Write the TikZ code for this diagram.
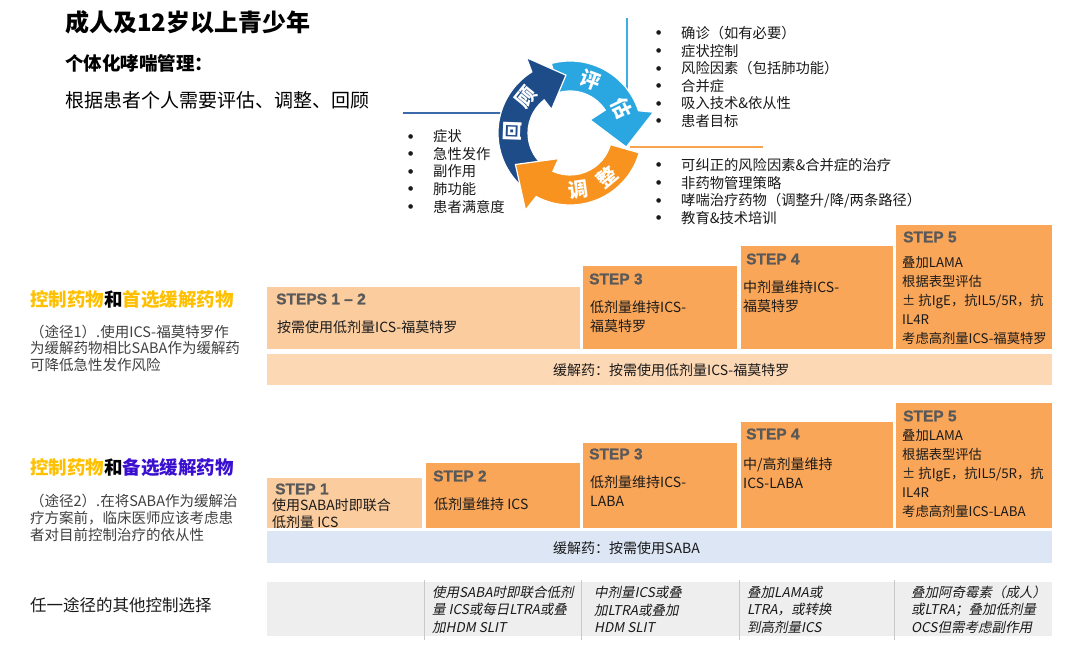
\documentclass[tikz,border=0pt]{standalone}
\usepackage{fontspec}
\setmainfont{Noto Sans CJK SC}
\newfontfamily\cjkit{Noto Sans CJK SC}[FakeSlant=0.2]
\newfontfamily\stepf{Liberation Sans Bold}[FakeBold=1.2]
\newfontfamily\bulf{DejaVu Sans}
\newcommand{\bul}{\makebox[25pt][l]{\raisebox{3.6pt}{\bulf\fontsize{6}{7}\selectfont ●}}}
\definecolor{cL}{HTML}{FBCC9E}
\definecolor{cD}{HTML}{FAA658}
\definecolor{cBarA}{HTML}{FDD8B5}
\definecolor{cBarB}{HTML}{DCE6F5}
\definecolor{cBand}{HTML}{EEEEEE}
\definecolor{cSep}{HTML}{C9C9C9}
\definecolor{cLbl}{HTML}{595959}
\definecolor{cNavy}{HTML}{1D4C89}
\definecolor{cSky}{HTML}{2AA7E1}
\definecolor{cOra}{HTML}{F7931E}
\definecolor{cSkyLine}{HTML}{3AB0E2}
\definecolor{cNavyLine}{HTML}{3A6BA8}
\definecolor{cOraLine}{HTML}{F7A450}
\definecolor{cGold}{HTML}{FFC000}
\definecolor{cPurp}{HTML}{3A0FD0}
\definecolor{cTxt}{HTML}{1A1A1A}
\definecolor{cDesc}{HTML}{404040}
\tikzset{
  boxbase/.style={draw=none, inner sep=0, outer sep=0, anchor=north west},
  ltbox/.style={boxbase, fill=cL},
  dkbox/.style={boxbase, fill=cD},
  steplbl/.style={anchor=west, inner sep=0, font=\stepf\fontsize{15.5}{18}\selectfont, text=cLbl},
  btxt/.style={anchor=west, inner sep=0, align=left, font=\fontsize{14}{19}\selectfont, text=cTxt},
  btxtS/.style={btxt, font=\fontsize{13.3}{19}\selectfont},
  lst/.style={anchor=west, inner sep=0, align=left, font=\fontsize{14.3}{17.6}\selectfont, text=cTxt},
  desc/.style={anchor=west, inner sep=0, align=left, font=\fontsize{14.5}{16.8}\selectfont, text=cDesc},
  heading/.style={anchor=west, inner sep=0, font=\bfseries\fontsize{18.5}{22}\selectfont},
  celltxt/.style={anchor=west, inner sep=0, align=left, font=\cjkit\fontsize{13.5}{17.5}\selectfont, text=cTxt},
  arrtxt/.style={inner sep=0, text=white, font=\bfseries\fontsize{20}{22}\selectfont},
  ring/.style={draw=white, line width=1.2}
}
\begin{document}
\begin{tikzpicture}[x=1pt,y=-1pt]
\fill[white] (0,0) rectangle (1080,651);
\useasboundingbox (0,0) rectangle (1080,651);

% titles
\node[anchor=west, inner sep=0, font=\bfseries\fontsize{24}{28}\selectfont] (title) at (65,22) {成人及12岁以上青少年};
\node[anchor=west, inner sep=0, font=\bfseries\fontsize{18.5}{22}\selectfont] (sub) at (65,63) {个体化哮喘管理：};
\node[anchor=west, inner sep=0, font=\fontsize{19}{22}\selectfont] (sub2) at (65,100) {根据患者个人需要评估、调整、回顾};

% guide lines
\coordinate (ls1) at (627,18); \coordinate (ls2) at (627,100);
\coordinate (ln1) at (403,113); \coordinate (ln2) at (510,113);
\coordinate (lo1) at (630,147); \coordinate (lo2) at (763,147);
\draw[cSkyLine, line width=1.3] (ls1) -- (ls2);
\draw[cNavyLine, line width=1.3] (ln1) -- (ln2);
\draw[cOraLine, line width=1.3] (lo1) -- (lo2);

% cycle
\begin{scope}[shift={(570,133)}, yscale=-1]
\path[ring, fill=cSky] (105:72) arc[start angle=105, end angle=18, radius=72] -- (14:86) -- (-14:58) -- (33:24) -- (33:42) arc[start angle=33, end angle=105, radius=42] -- cycle;
\path[ring, fill=cNavy] (225:72) arc[start angle=225, end angle=122, radius=72] -- (120:87) -- (94:58) -- (128:30) -- (128:42) arc[start angle=128, end angle=225, radius=42] -- cycle;
\path[ring, fill=cOra] (-16:72) arc[start angle=-16, end angle=-118, radius=72] -- (-120:89) -- (-150:63) -- (-114:28) -- (-114:42) arc[start angle=-114, end angle=-16, radius=42] -- cycle;
\end{scope}
\node[arrtxt, rotate=88] (hui) at ([shift={(570,133)}]-178:57) {回};
\node[arrtxt, rotate=51] (gu) at ([shift={(570,133)}]-141:57) {顾};
\node[arrtxt, rotate=-21] (ping) at ([shift={(570,133)}]-69:57) {评};
\node[arrtxt, rotate=-64] (gus) at ([shift={(570,133)}]-26:57) {估};
\node[arrtxt, rotate=8] (tiao) at ([shift={(570,133)}]82:57) {调};
\node[arrtxt, rotate=40] (zheng) at ([shift={(570,133)}]50:57) {整};

% bullet lists
\node[lst] (lstL) at (408,171.5) {\bul 症状\\\bul 急性发作\\\bul 副作用\\\bul 肺功能\\\bul 患者满意度};
\node[lst] (lstA) at (656,77) {\bul 确诊（如有必要）\\\bul 症状控制\\\bul 风险因素（包括肺功能）\\\bul 合并症\\\bul 吸入技术\&依从性\\\bul 患者目标};
\node[lst] (lstB) at (656,191.5) {\bul 可纠正的风险因素\&合并症的治疗\\\bul 非药物管理策略\\\bul 哮喘治疗药物（调整升/降/两条路径）\\\bul 教育\&技术培训};

% row 1 left text
\node[heading] (h1) at (30,300) {\textcolor{cGold}{控制药物}和\textcolor{cGold}{首选缓解药物}};
\node[desc] (d1) at (30,348.3) {（途径1）.使用ICS-福莫特罗作\\为缓解药物相比SABA作为缓解药\\可降低急性发作风险};

% row 1 boxes
\node[ltbox, minimum width=313, minimum height=62] (s12) at (267,287) {};
\node[dkbox, minimum width=154, minimum height=83] (s3) at (583,266) {};
\node[dkbox, minimum width=152, minimum height=103] (s4) at (741,246) {};
\node[dkbox, minimum width=156, minimum height=124] (s5) at (896,225) {};
\node[boxbase, fill=cBarA, minimum width=785, minimum height=31] (bar1) at (267,354) {};

\node[steplbl] (s12l) at (276,299) {STEPS 1 – 2};
\node[btxt] (s12t) at (277,327) {按需使用低剂量ICS-福莫特罗};
\node[steplbl] (s3l) at (589,279) {STEP 3};
\node[btxt] (s3t) at (590,317) {低剂量维持ICS-\\福莫特罗};
\node[steplbl] (s4l) at (746,259) {STEP 4};
\node[btxt] (s4t) at (743,296.5) {中剂量维持ICS-\\福莫特罗};
\node[steplbl] (s5l) at (903,237) {STEP 5};
\node[btxtS] (s5t) at (902,300.4) {叠加LAMA\\根据表型评估\\± 抗IgE，抗IL5/5R，抗\\IL4R\\考虑高剂量ICS-福莫特罗};
\node[btxt] (bar1t) at (553,370) {缓解药：按需使用低剂量ICS-福莫特罗};

% row 2 left text
\node[heading] (h2) at (30,468) {\textcolor{cGold}{控制药物}和\textcolor{cPurp}{备选缓解药物}};
\node[desc] (d2) at (30,518) {（途径2）.在将SABA作为缓解治\\疗方案前，临床医师应该考虑患\\者对目前控制治疗的依从性};

% row 2 boxes
\node[ltbox, minimum width=155, minimum height=50] (t1) at (267,478) {};
\node[dkbox, minimum width=154, minimum height=65] (t2) at (426,463) {};
\node[dkbox, minimum width=154, minimum height=85] (t3) at (583,443) {};
\node[dkbox, minimum width=152, minimum height=106] (t4) at (741,422) {};
\node[dkbox, minimum width=156, minimum height=125] (t5) at (896,403) {};
\node[boxbase, fill=cBarB, minimum width=785, minimum height=32] (bar2) at (267,531) {};

\node[steplbl] (t1l) at (275,489) {STEP 1};
\node[btxt, font=\fontsize{14}{16.5}\selectfont] (t1t) at (272,513.5) {使用SABA时即联合\\低剂量 ICS};
\node[steplbl] (t2l) at (433,476) {STEP 2};
\node[btxt] (t2t) at (434,504) {低剂量维持 ICS};
\node[steplbl] (t3l) at (589,454) {STEP 3};
\node[btxt] (t3t) at (590,491.5) {低剂量维持ICS-\\LABA};
\node[steplbl] (t4l) at (746,434) {STEP 4};
\node[btxt] (t4t) at (743,473.5) {中/高剂量维持\\ICS-LABA};
\node[steplbl] (t5l) at (903,416) {STEP 5};
\node[btxtS] (t5t) at (902,474) {叠加LAMA\\根据表型评估\\± 抗IgE，抗IL5/5R，抗\\IL4R\\考虑高剂量ICS-LABA};
\node[btxt] (bar2t) at (553,548) {缓解药：按需使用SABA};

% row 3
\node[anchor=west, inner sep=0, font=\fontsize{16.5}{20}\selectfont, text=cTxt] (r3) at (30,605) {任一途径的其他控制选择};
\node[boxbase, fill=cBand, minimum width=785, minimum height=54] (band) at (267,582) {};
\foreach \xx/\nm in {424/sa,581/sb,739/sc,894/sd}{
  \coordinate (\nm1) at (\xx,580);
  \coordinate (\nm2) at (\xx,640);
  \draw[cSep, line width=1] (\nm1) -- (\nm2);
}
\node[celltxt] (c2) at (432,609.5) {使用SABA时即联合低剂\\量 ICS或每日LTRA或叠\\加HDM SLIT};
\node[celltxt] (c3) at (594,609.5) {中剂量ICS或叠\\加LTRA或叠加\\HDM SLIT};
\node[celltxt] (c4) at (747,609.5) {叠加LAMA或\\LTRA，或转换\\到高剂量ICS};
\node[celltxt] (c5) at (911,609.5) {叠加阿奇霉素（成人）\\或LTRA；叠加低剂量\\OCS但需考虑副作用};
\end{tikzpicture}
\end{document}
